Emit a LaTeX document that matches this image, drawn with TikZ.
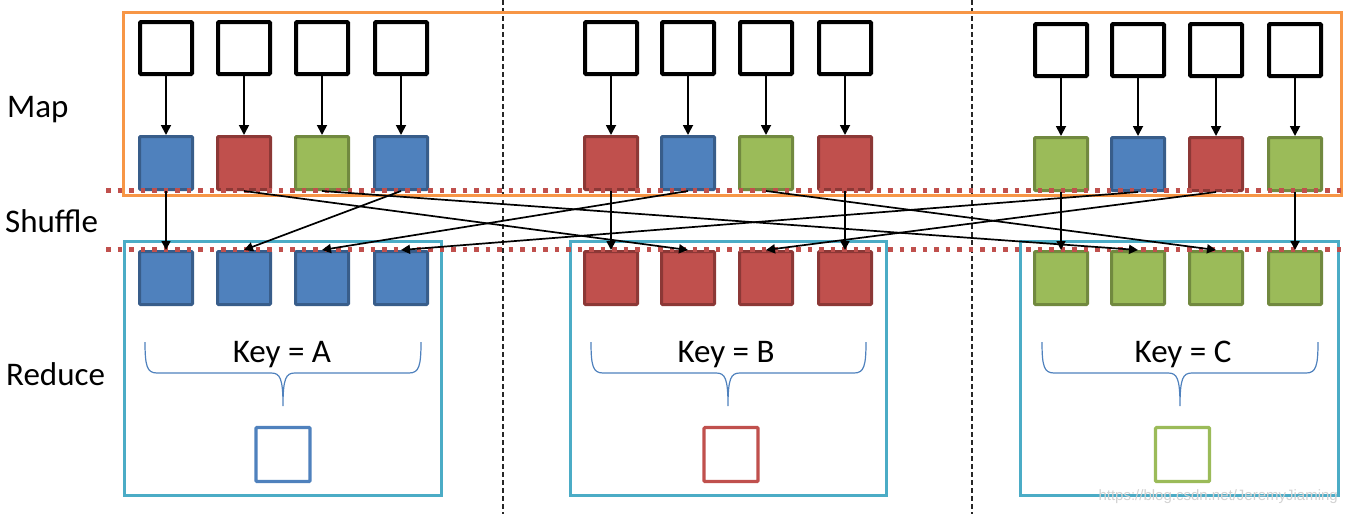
\documentclass[tikz,border=0pt]{standalone}
\usepackage{fontspec}
\setmainfont{Carlito}
\newfontfamily\wmfont{Liberation Sans}
\usetikzlibrary{arrows.meta}
\definecolor{bfill}{RGB}{79,129,189}
\definecolor{bline}{RGB}{56,93,138}
\definecolor{rfill}{RGB}{192,80,77}
\definecolor{rline}{RGB}{140,56,54}
\definecolor{gfill}{RGB}{155,187,89}
\definecolor{gline}{RGB}{113,137,63}
\definecolor{orangeline}{RGB}{247,150,70}
\definecolor{cyanline}{RGB}{75,172,198}
\definecolor{dotred}{RGB}{192,80,77}
\begin{document}
\begin{tikzpicture}[x=1pt,y=-1pt,
  srcbox/.style={draw=black,line width=4pt,fill=white,minimum size=52pt,inner sep=0pt,rounded corners=1pt},
  cbox/.style={line width=3pt,minimum size=53pt,inner sep=0pt,rounded corners=1pt},
  bluebox/.style={cbox,draw=bline,fill=bfill},
  redbox/.style={cbox,draw=rline,fill=rfill},
  greenbox/.style={cbox,draw=gline,fill=gfill},
  outbox/.style={line width=3.2pt,fill=white,minimum size=54pt,inner sep=0pt,rounded corners=1pt},
  arr/.style={line width=1.8pt,-{Triangle[width=10pt,length=10pt]}},
  sarr/.style={line width=1.7pt,-{Triangle[width=9pt,length=9pt]}},
  lbl/.style={font=\fontsize{33}{40}\selectfont,inner sep=0pt},
  brace/.style={draw=bfill,line width=1.2pt},
  dotline/.style={draw=dotred,line width=5pt,dash pattern=on 4.5pt off 7pt},
  sep/.style={draw=black!85,line width=1.2pt,dash pattern=on 5pt off 3pt}
]
\useasboundingbox (0,0) rectangle (1348,514);

% vertical dashed separators
\draw[sep] (503,0) -- (503,514);
\draw[sep] (972,0) -- (972,514);

% containers
\draw[draw=orangeline,line width=3.5pt] (123.5,12.5) rectangle (1341.5,195.5);
\draw[draw=cyanline,line width=3.5pt] (124.5,241.5) rectangle (441.5,495.5);
\draw[draw=cyanline,line width=3.5pt] (570.5,241.5) rectangle (886.5,495.5);
\draw[draw=cyanline,line width=3.5pt] (1020.5,241.5) rectangle (1338.5,495.5);

% labels
\node[lbl,anchor=base west] (lmap) at (7,117) {Map};
\node[lbl,anchor=base west] (lshuf) at (5,232) {Shuffle};
\node[lbl,anchor=base west] (lred) at (6,385) {Reduce};

% source boxes
\foreach \i/\x in {1/166,2/244,3/322,4/401,5/611,6/688,7/766,8/845}
  \node[srcbox] (s\i) at (\x,48) {};
\foreach \i/\x in {9/1061,10/1138,11/1216,12/1295}
  \node[srcbox] (s\i) at (\x,50) {};

% map outputs
\node[bluebox]  (m1)  at (166,163) {};
\node[redbox]   (m2)  at (244,163) {};
\node[greenbox] (m3)  at (322,163) {};
\node[bluebox]  (m4)  at (401,163) {};
\node[redbox]   (m5)  at (611,163) {};
\node[bluebox]  (m6)  at (688,163) {};
\node[greenbox] (m7)  at (766,163) {};
\node[redbox]   (m8)  at (845,163) {};
\node[greenbox] (m9)  at (1061,164) {};
\node[bluebox]  (m10) at (1138,164) {};
\node[redbox]   (m11) at (1216,164) {};
\node[greenbox] (m12) at (1295,164) {};

% reduce inputs
\foreach \i/\x in {1/166,2/244,3/322,4/401}
  \node[bluebox] (r\i) at (\x,278) {};
\foreach \i/\x in {5/611,6/688,7/766,8/845}
  \node[redbox] (r\i) at (\x,278) {};
\foreach \i/\x in {9/1061,10/1138,11/1216,12/1295}
  \node[greenbox] (r\i) at (\x,278) {};

% dotted red lines
\draw[dotline] (106,190.5) -- (1348,190.5);
\draw[dotline] (106,249) -- (1348,249);

% map arrows
\foreach \i in {1,...,12}
  \draw[arr] (s\i.south) -- (m\i.north);

% shuffle arrows
\draw[sarr] (m1.south) -- (r1.north);
\draw[sarr] (m4.south) -- (r2.north);
\draw[sarr] (m6.south) -- (r3.north);
\draw[sarr] (m10.south) -- (r4.north);
\draw[sarr] (m5.south) -- (r5.north);
\draw[sarr] (m2.south) -- (r6.north);
\draw[sarr] (m11.south) -- (r7.north);
\draw[sarr] (m8.south) -- (r8.north);
\draw[sarr] (m9.south) -- (r9.north);
\draw[sarr] (m3.south) -- (r10.north);
\draw[sarr] (m7.south) -- (r11.north);
\draw[sarr] (m12.south) -- (r12.north);

% braces and keys
\foreach \a/\b/\c in {145/283/421, 591/728/866, 1042/1180/1318}{
  \draw[brace] (\a,342) .. controls (\a,366) and (\a+2,373) .. (\a+12,373)
    -- (\b-12,373) .. controls (\b-3,373) and (\b,378) .. (\b,406)
    .. controls (\b,378) and (\b+3,373) .. (\b+12,373)
    -- (\c-12,373) .. controls (\c-2,373) and (\c,366) .. (\c,342);
}
\node[lbl,anchor=base] (ka) at (282,362) {Key = A};
\node[lbl,anchor=base] (kb) at (726,362) {Key = B};
\node[lbl,anchor=base] (kc) at (1183,362) {Key = C};

% reduce outputs
\node[outbox,draw=bfill] (o1) at (283,454.5) {};
\node[outbox,draw=rfill] (o2) at (731,454.5) {};
\node[outbox,draw=gfill] (o3) at (1182.5,454.5) {};

% watermark
\node[font=\wmfont\fontsize{15}{18}\selectfont,text=gray!35,anchor=base east,inner sep=0pt] (wm) at (1338,500) {https://blog.csdn.net/JeremyJiaming};
\end{tikzpicture}
\end{document}
